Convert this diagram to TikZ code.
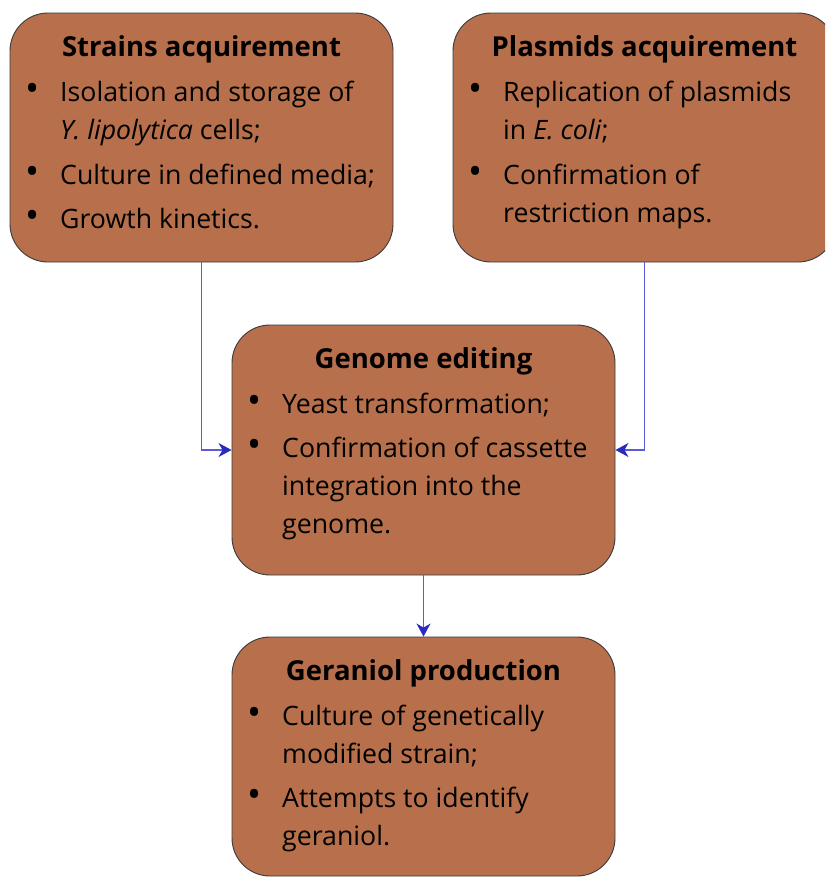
\documentclass[tikz,border=0pt]{standalone}
\usepackage{fontspec}
\setmainfont{Open Sans}
\usetikzlibrary{arrows.meta, positioning}
\definecolor{boxbrown}{HTML}{B7704B}
\definecolor{edgegray}{HTML}{3A3A3A}
\definecolor{linkblue}{HTML}{5B5BD6}
\definecolor{tipblue}{HTML}{2A2ABF}
\newcommand{\bul}{\makebox[42pt][l]{\makebox[28pt]{\scalebox{1.4}{\textbullet}}}}

\begin{document}
\begin{tikzpicture}[x=1pt, y=-1pt,
            stage/.style={rectangle, rounded corners=38pt, draw=edgegray, fill=boxbrown, line width=0.9pt, minimum width=383pt, minimum height=249pt, inner sep=0pt},
            heading/.style={anchor=base, inner sep=0pt, font=\fontsize{27.5}{30}\selectfont\bfseries},
            items/.style={anchor=base west, inner sep=0pt, font=\fontsize{26.7}{38}\selectfont},
            link/.style={draw=linkblue, line width=1.3pt, -{Stealth[length=13pt, width=14pt, inset=4pt, color=tipblue]}}]
            \clip (0,0) rectangle (825,878);
            % boxes
            \node[stage] (strains) at (201.5,137.5) {};
            \node[stage] (plasmids) at (644.5,137.5) {};
            \node[stage, minimum height=250pt] (genome) at (423.5,450) {};
            \node[stage, minimum height=239pt] (geraniol) at (423.5,756.5) {};
            % texts
            \node[heading] (strainsT) at (201.5,56) {Strains acquirement};
            \node[items] (strainsL) at (18,101.7) {\begin{tabular}[t]{@{}l@{}l@{}}
                \bul & Isolation and storage of\\
                     & \textit{Y. lipolytica} cells;\\[6.5pt]
                \bul & Culture in defined media;\\[6.5pt]
                \bul & Growth kinetics.
                \end{tabular}};
            \node[heading] (plasmidsT) at (644.5,56) {Plasmids acquirement};
            \node[items] (plasmidsL) at (461,101.7) {\begin{tabular}[t]{@{}l@{}l@{}}
                \bul & Replication of plasmids\\
                     & in \textit{E. coli};\\[6.5pt]
                \bul & Confirmation of\\
                     & restriction maps.
                \end{tabular}};
            \node[heading] (genomeT) at (423.5,368) {Genome editing};
            \node[items] (genomeL) at (240,413) {\begin{tabular}[t]{@{}l@{}l@{}}
                \bul & Yeast transformation;\\[6.5pt]
                \bul & Confirmation of cassette\\
                     & integration into the\\
                     & genome.
                \end{tabular}};
            \node[heading] (geraniolT) at (423.5,680) {Geraniol production};
            \node[items] (geraniolL) at (240,725) {\begin{tabular}[t]{@{}l@{}l@{}}
                \bul & Culture of genetically\\
                     & modified strain;\\[6.5pt]
                \bul & Attempts to identify\\
                     & geraniol.
                \end{tabular}};
            % arrows
            \draw[link] (strains.south) |- (genome.west);
            \draw[link] (plasmids.south) |- (genome.east);
            \draw[link] (genome.south) -- (geraniol.north);
        \end{tikzpicture}
\end{document}
